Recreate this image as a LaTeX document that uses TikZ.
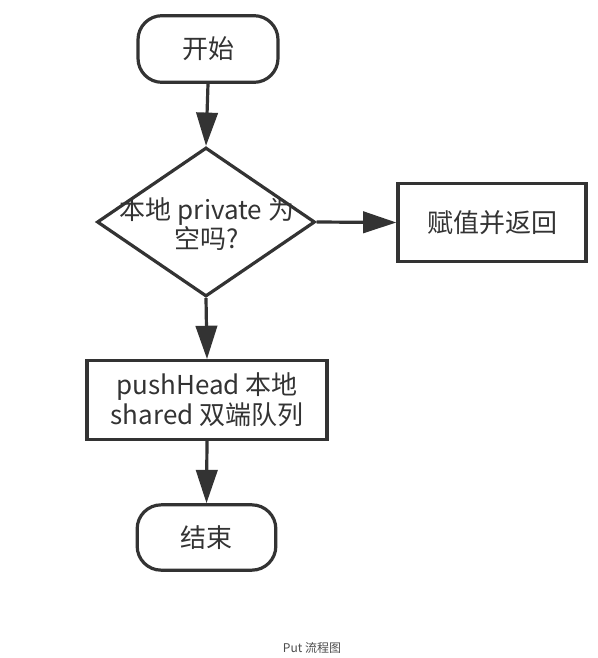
\documentclass[tikz,border=0pt]{standalone}
\usepackage{fontspec}
\setmainfont{Noto Sans CJK SC}
\usetikzlibrary{shapes.geometric,arrows.meta}
\definecolor{ln}{HTML}{333333}
\definecolor{tx}{HTML}{333333}
\begin{document}
\begin{tikzpicture}[x=0.75pt,y=-0.75pt,
  every node/.style={text=tx,font=\fontsize{19.5pt}{24pt}\selectfont},
  term/.style={draw=ln,line width=2.4pt,rounded corners=18pt,minimum width=#1,minimum height=50pt,inner sep=0pt},
  proc/.style={draw=ln,line width=2.4pt,minimum height=59pt,inner sep=0pt,align=center},
  flow/.style={draw=ln,line width=2.4pt,-{Triangle[length=25pt,width=16pt]}}]
\useasboundingbox (0,0) rectangle (598,658);
\node[term=105pt] (start) at (208,49) {开始};
\node[draw=ln,line width=2.4pt,shape=diamond,minimum width=163.5pt,minimum height=111.75pt,inner sep=0pt] (dec) at (206,222) {};
\node[align=center,font=\fontsize{19.5pt}{20.25pt}\selectfont] (dect) at (207,224) {本地 private 为\\空吗?};
\node[proc,minimum width=141pt] (ret) at (492,222.5) {赋值并返回};
\node[proc,minimum width=180pt,font=\fontsize{19.5pt}{22.5pt}\selectfont] (push) at (207,400) {pushHead 本地\\shared 双端队列};
\node[term=104pt,minimum height=49pt] (end) at (206.5,537.5) {结束};
\node[font=\fontsize{9pt}{11pt}\selectfont,text=black!70] (cap) at (312,648) {Put 流程图};
\draw[flow] (start.south) -- (dec.north);
\draw[flow] (dec.east) -- (ret.west);
\draw[flow] (dec.south) -- (push.north);
\draw[flow] (push.south) -- (end.north);
\end{tikzpicture}
\end{document}
